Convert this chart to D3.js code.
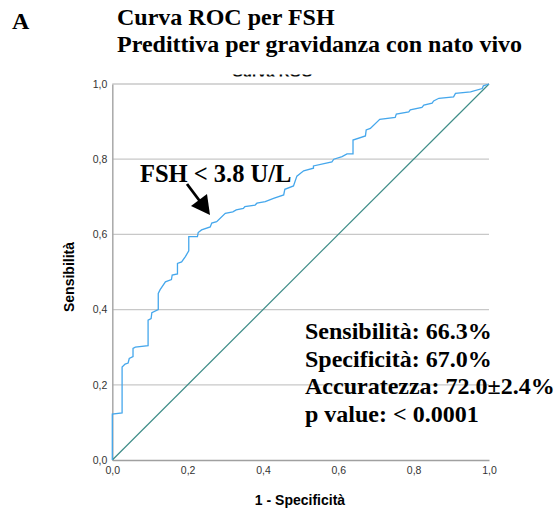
<!DOCTYPE html>
<html><head><meta charset="utf-8">
<script src="https://cdn.jsdelivr.net/npm/d3@7"></script>
<style>html,body{margin:0;padding:0;background:#fff;}</style>
</head><body>
<svg id="c" width="558" height="513"></svg>
<script>
const fpr = [0,0,0.026,0.026,0.034,0.042,0.045,0.055,0.055,0.061,0.095,0.095,0.103,0.105,0.122,0.122,0.127,0.141,0.157,0.159,0.173,0.173,0.184,0.194,0.203,0.203,0.226,0.228,0.237,0.26,0.264,0.277,0.30,0.32,0.329,0.348,0.352,0.379,0.384,0.406,0.428,0.455,0.458,0.481,0.49,0.508,0.534,0.534,0.583,0.588,0.61,0.623,0.639,0.639,0.672,0.674,0.685,0.71,0.751,0.754,0.787,0.791,0.822,0.827,0.849,0.853,0.867,0.906,0.911,0.951,0.982,0.985,1];
const tpr = [0,0.122,0.125,0.247,0.255,0.258,0.27,0.275,0.297,0.30,0.304,0.372,0.376,0.392,0.40,0.443,0.453,0.474,0.48,0.492,0.495,0.523,0.527,0.541,0.556,0.594,0.594,0.605,0.612,0.62,0.63,0.634,0.656,0.66,0.665,0.669,0.674,0.678,0.683,0.687,0.696,0.705,0.72,0.729,0.755,0.769,0.776,0.782,0.793,0.80,0.807,0.814,0.814,0.851,0.862,0.878,0.882,0.906,0.911,0.92,0.926,0.931,0.938,0.944,0.949,0.955,0.962,0.966,0.975,0.979,0.988,0.995,1];
const refLine = [[0,0],[1,1]];
const ticks = [0,0.2,0.4,0.6,0.8,1.0];
const tickLabels = ["0,0","0,2","0,4","0,6","0,8","1,0"];
const statsText = ["Sensibilità: 66.3%","Specificità: 67.0%","Accuratezza: 72.0±2.4%","p value: < 0.0001"];
const titleLines = ["Curva ROC per FSH","Predittiva per gravidanza con nato vivo"];
const cutoffLabel = "FSH < 3.8 U/L";

const svg = d3.select("#c");
const x = d3.scaleLinear().domain([0,1]).range([112.3,489]);
const y = d3.scaleLinear().domain([0,1]).range([460,84]);

// clipped leftover title
svg.append("defs").append("clipPath").attr("id","cl").append("rect").attr("x",200).attr("y",74.5).attr("width",150).attr("height",2);
svg.append("text").attr("clip-path","url(#cl)").attr("x",272).attr("y",76.5).attr("text-anchor","middle")
  .attr("font-family","Liberation Sans, Arial, sans-serif").attr("font-weight","bold").attr("font-size",15).text("Curva ROC");

// gridlines
svg.append("g").selectAll("line").data(ticks.slice(1)).join("line")
  .attr("x1",x(0)).attr("x2",x(1)).attr("y1",d=>y(d)).attr("y2",d=>y(d))
  .attr("stroke","#c8c8c8").attr("stroke-width",1.3);

// axes
const yAxis = d3.axisLeft(y).tickValues(ticks).tickFormat((d,i)=>tickLabels[i]).tickSize(0).tickPadding(5);
const gy = svg.append("g").attr("transform",`translate(${x(0)},0)`).call(yAxis);
gy.select(".domain").attr("stroke","#a8a8a8").attr("stroke-width",1.5);
const xAxis = d3.axisBottom(x).tickValues(ticks).tickFormat((d,i)=>tickLabels[i]).tickSize(0).tickPadding(7);
const gx = svg.append("g").attr("transform",`translate(0,${y(0)})`).call(xAxis);
gx.select(".domain").attr("stroke","#a0a0a0").attr("stroke-width",1.5);
svg.selectAll(".tick text").attr("font-family","Liberation Sans, Arial, sans-serif").attr("font-size",10.5).attr("fill","#333");

// reference diagonal
const line = d3.line().x(d=>x(d[0])).y(d=>y(d[1]));
svg.append("path").datum(refLine).attr("d",line).attr("fill","none").attr("stroke","#3f8d88").attr("stroke-width",1.2);

// ROC curve
const pts = fpr.map((f,i)=>[f,tpr[i]]);
svg.append("path").datum(pts).attr("d",line).attr("fill","none").attr("stroke","#45a7ec").attr("stroke-width",1.3);

// axis titles
svg.append("text").attr("transform","translate(74,277) rotate(-90)").attr("text-anchor","middle")
  .attr("font-family","Liberation Sans, Arial, sans-serif").attr("font-weight","bold").attr("font-size",14).text("Sensibilità");
svg.append("text").attr("x",300).attr("y",505).attr("text-anchor","middle")
  .attr("font-family","Liberation Sans, Arial, sans-serif").attr("font-weight","bold").attr("font-size",14).text("1 - Specificità");

// titles
const serif = "Liberation Serif, Times New Roman, serif";
svg.append("text").attr("x",12).attr("y",29).attr("font-family",serif).attr("font-weight","bold").attr("font-size",24).text("A");
svg.selectAll("text.title").data(titleLines).join("text").attr("class","title")
  .attr("x",117).attr("y",(d,i)=>25+i*27).attr("font-family",serif).attr("font-weight","bold").attr("font-size",24).text(d=>d);

// cutoff annotation
svg.append("text").attr("x",140).attr("y",182).attr("font-family",serif).attr("font-weight","bold").attr("font-size",24.5).text(cutoffLabel);
svg.append("line").attr("x1",187).attr("y1",184).attr("x2",202).attr("y2",204).attr("stroke","#000").attr("stroke-width",2.8);
svg.append("path").attr("d","M 191 206 L 207 194 L 210 215 Z").attr("fill","#000");

// stats
svg.selectAll("text.stat").data(statsText).join("text").attr("class","stat")
  .attr("x",305).attr("y",(d,i)=>339+i*27.5).attr("font-family",serif).attr("font-weight","bold").attr("font-size",24).text(d=>d);
</script>
</body></html>
